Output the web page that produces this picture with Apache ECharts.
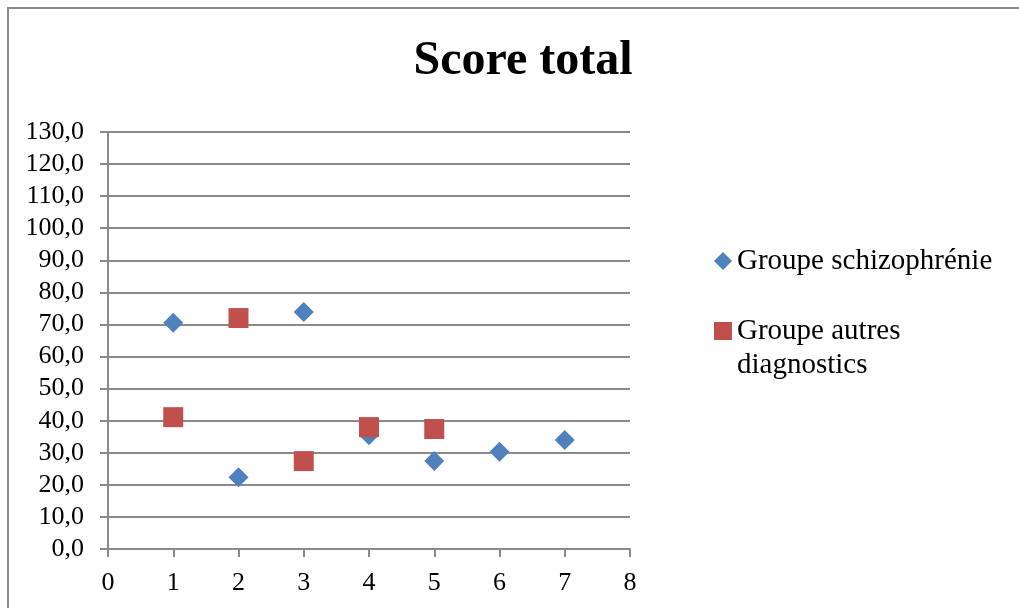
<!DOCTYPE html>
<html>
<head>
<meta charset="utf-8">
<script src="https://cdn.jsdelivr.net/npm/echarts@6/dist/echarts.min.js"></script>
<style>
  html, body { margin: 0; padding: 0; background: #fff; }
  #chart { width: 1019px; height: 608px; }
</style>
</head>
<body>
<div id="chart"></div>
<script>
// Patient index (x) and total score (y) for each group
const patientsSchizo = [1, 2, 3, 4, 5, 6, 7];
const scoresSchizo = [70.5, 22.4, 73.9, 35.5, 27.4, 30.3, 34.0];
const patientsAutres = [1, 2, 3, 4, 5];
const scoresAutres = [41.1, 72.0, 27.4, 38.0, 37.4];
const seriesNames = ['Groupe schizophrénie', 'Groupe autres diagnostics'];
const chartTitle = 'Score total';

const FONT = "'Liberation Serif', 'Times New Roman', serif";
const GRID_GREY = '#8a8a8a';

const chart = echarts.init(document.getElementById('chart'), null, { renderer: 'canvas' });

const pairs = (xs, ys) => xs.map((x, i) => [x, ys[i]]);

chart.setOption({
  animation: false,
  backgroundColor: '#fff',
  title: {
    text: chartTitle,
    left: 518,
    textAlign: 'center',
    top: 33,
    textStyle: { fontFamily: FONT, fontWeight: 'bold', fontSize: 48, color: '#000' }
  },
  graphic: [{
    type: 'rect',
    shape: { x: 8, y: 8, width: 1200, height: 800 },
    style: { fill: 'none', stroke: GRID_GREY, lineWidth: 2 },
    silent: true
  }],
  grid: { left: 108, right: 389, top: 132, bottom: 59, containLabel: false },
  xAxis: {
    type: 'value',
    min: 0, max: 8, interval: 1,
    axisLine: { show: true, onZero: false, lineStyle: { color: GRID_GREY, width: 2 } },
    axisTick: { show: true, inside: false, length: 8, lineStyle: { color: GRID_GREY, width: 2 } },
    axisLabel: { margin: 21, fontFamily: FONT, fontSize: 26, color: '#000' },
    splitLine: { show: false }
  },
  yAxis: {
    type: 'value',
    min: 0, max: 130, interval: 10,
    axisLine: { show: true, lineStyle: { color: GRID_GREY, width: 2 } },
    axisTick: { show: true, inside: false, length: 8, lineStyle: { color: GRID_GREY, width: 2 } },
    axisLabel: {
      margin: 24, fontFamily: FONT, fontSize: 26, color: '#000',
      formatter: v => v.toFixed(1).replace('.', ',')
    },
    splitLine: { show: true, lineStyle: { color: GRID_GREY, width: 2 } }
  },
  legend: [
    {
      data: [{ name: seriesNames[0], icon: 'diamond' }],
      left: 714, top: 244, padding: 0,
      itemWidth: 18, itemHeight: 18,
      textStyle: { fontFamily: FONT, fontSize: 29, color: '#000', lineHeight: 34 }
    },
    {
      data: [{ name: seriesNames[1], icon: 'rect' }],
      left: 714, top: 280, padding: 0,
      itemWidth: 18, itemHeight: 18,
      // wrap onto two lines, first line level with the marker
      formatter: () => '\nGroupe autres\ndiagnostics',
      textStyle: { fontFamily: FONT, fontSize: 29, color: '#000', lineHeight: 34 }
    }
  ],
  series: [
    {
      name: seriesNames[0],
      type: 'scatter',
      symbol: 'diamond',
      symbolSize: 20,
      itemStyle: { color: '#4F81BD', opacity: 1 },
      data: pairs(patientsSchizo, scoresSchizo)
    },
    {
      name: seriesNames[1],
      type: 'scatter',
      symbol: 'rect',
      symbolSize: 20,
      itemStyle: { color: '#C0504D', opacity: 1 },
      data: pairs(patientsAutres, scoresAutres)
    }
  ]
});
</script>
</body>
</html>
